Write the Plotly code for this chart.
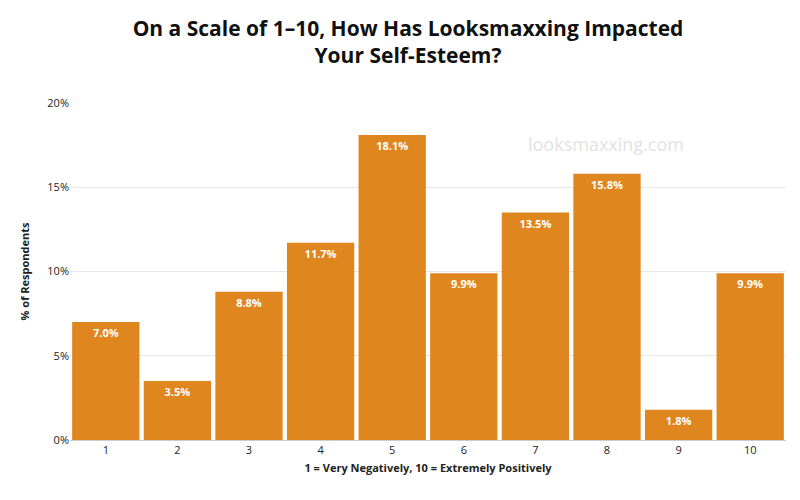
import plotly.graph_objects as go

scores = ["1", "2", "3", "4", "5", "6", "7", "8", "9", "10"]
pct = [7.0, 3.5, 8.8, 11.7, 18.1, 9.9, 13.5, 15.8, 1.8, 9.9]
y_ticks = [0, 5, 10, 15, 20]
y_tick_labels = ["0%", "5%", "10%", "15%", "20%"]

fig = go.Figure()
fig.add_trace(
    go.Bar(
        x=scores,
        y=pct,
        marker=dict(color="#E0861F", line=dict(width=0)),
        text=[f"{v:.1f}%" for v in pct],
        textposition="inside",
        insidetextanchor="end",
        textfont=dict(color="white", size=11, family="Open Sans"),
        texttemplate="<b>%{text}</b>",
        cliponaxis=False,
    )
)

fig.add_annotation(
    text="looksmaxxing.com", xref="paper", yref="paper", x=0.86, y=0.92,
    showarrow=False, font=dict(size=18, color="#e2e2e2", family="Open Sans"),
)

fig.update_xaxes(
    title_text="<b>1 = Very Negatively, 10 = Extremely Positively</b>",
    title_font=dict(size=11, color="#222"), title_standoff=8,
    tickfont=dict(size=11, color="#222"), showgrid=False,
    showline=True, linecolor="#ccc", ticks="",
)
fig.update_yaxes(
    title_text="<b>% of Respondents</b>", title_font=dict(size=11, color="#222"),
    tickvals=y_ticks, ticktext=y_tick_labels, range=[0, 20],
    tickfont=dict(size=11, color="#222"), showgrid=True, gridcolor="#e6e6e6",
    zeroline=False,
)
fig.update_layout(
    width=800, height=500,
    title=dict(
        text="<b>On a Scale of 1–10, How Has Looksmaxxing Impacted<br>Your Self-Esteem?</b>",
        x=0.5, xref="container", xanchor="center", y=0.945, yanchor="top",
        font=dict(size=21, color="#111", family="Open Sans"),
    ),
    font=dict(family="Open Sans"),
    bargap=0.06,
    plot_bgcolor="white", paper_bgcolor="white",
    margin=dict(l=62, r=22, t=95, b=68),
    showlegend=False,
)
fig.write_html("out.html")
